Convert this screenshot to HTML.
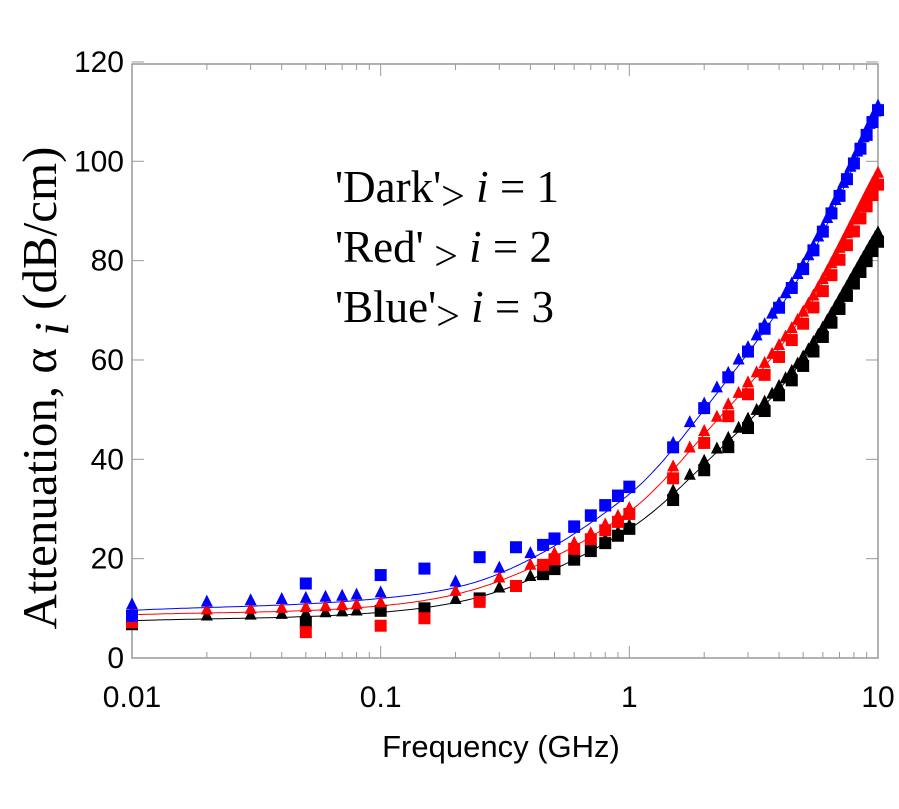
<!DOCTYPE html><html><head><meta charset="utf-8"><style>body{margin:0;background:#fff}svg{display:block}</style></head><body>
<svg id="s" width="899" height="809" xmlns="http://www.w3.org/2000/svg" font-family="Liberation Sans, sans-serif">
<rect width="899" height="809" fill="#fff"/>
<g id="g"></g>
<g font-family="Liberation Serif, serif" font-size="45" fill="#000">
<text x="335" y="202">'Dark'<tspan font-size="42" dy="8">&gt;</tspan><tspan font-style="italic" dy="-8"> i</tspan> = 1</text>
<text x="335" y="262">'Red'<tspan font-size="42" dy="8"> &gt;</tspan><tspan font-style="italic" dy="-8"> i</tspan> = 2</text>
<text x="335" y="322">'Blue'<tspan font-size="42" dy="8">&gt;</tspan><tspan font-style="italic" dy="-8"> i</tspan> = 3</text>
<text transform="translate(56,388) rotate(-90)" text-anchor="middle" font-size="49">Attenuation, α<tspan font-style="italic" dy="12"> i</tspan><tspan dy="-12"> (dB/cm)</tspan></text>
</g>
<text x="501" y="757" text-anchor="middle" font-size="31">Frequency (GHz)</text>
</svg>
<script>
const X=f=>132+248.67*Math.log10(f/0.01), Y=v=>658-v*4.967;
const g=document.getElementById('g');let h='';
const ax={b:[[.01,7.5],[.1,9.2],[.3,13.5],[1,26],[2,39],[5,60],[10,85]],
r:[[.01,8.7],[.1,10.5],[.3,15.5],[1,29.5],[2,45],[5,69],[10,97]],
bl:[[.01,9.6],[.1,12],[.3,17],[1,33],[2,50],[5,78],[10,110]]};
function val(a,f){const lx=Math.log10(f);let p=a.map(q=>[Math.log10(q[0]),q[1]]);
for(let i=0;i<p.length-1;i++){if(lx<=p[i+1][0]+1e-9){const p0=p[Math.max(0,i-1)],p1=p[i],p2=p[i+1],p3=p[Math.min(p.length-1,i+2)];
const t=(lx-p1[0])/(p2[0]-p1[0]);const m1=(p2[1]-p0[1])/(p2[0]-p0[0])*(p2[0]-p1[0]),m2=(p3[1]-p1[1])/(p3[0]-p1[0])*(p2[0]-p1[0]);
const t2=t*t,t3=t2*t;return (2*t3-3*t2+1)*p1[1]+(t3-2*t2+t)*m1+(-2*t3+3*t2)*p2[1]+(t3-t2)*m2;}}return p[p.length-1][1];}
h+='<rect x="132" y="64" width="746" height="594" fill="none" stroke="#999" stroke-width="1.5"/>';
for(let d=0;d<3;d++)for(let k=1;k<10;k++){const f=0.01*Math.pow(10,d)*k,x=X(f),L=k==1?12:6;if(k==1&&d==0)continue;
h+=`<line x1="${x}" x2="${x}" y1="658" y2="${658-L}" stroke="#999"/><line x1="${x}" x2="${x}" y1="64" y2="${64+L}" stroke="#999"/>`;}
for(let v=0;v<=120;v+=20){const y=Y(v);h+=`<line x1="132" x2="144" y1="${y}" y2="${y}" stroke="#999"/><line x1="866" x2="878" y1="${y}" y2="${y}" stroke="#999"/><text x="124" y="${y+10}" text-anchor="end" font-size="30">${v}</text>`;}
[['0.01',.01],['0.1',.1],['1',1],['10',10]].forEach(a=>h+=`<text x="${X(a[1])}" y="707" text-anchor="middle" font-size="30">${a[0]}</text>`);
const col={b:'#000',r:'#f00',bl:'#00f'};
for(const k of ['b','r','bl']){let d='';for(let i=0;i<=300;i++){const f=0.01*Math.pow(1000,i/300);d+=(i?'L':'M')+X(f).toFixed(1)+','+Y(val(ax[k],f)).toFixed(1);}
h+=`<path d="${d}" fill="none" stroke="${col[k]}" stroke-width="1"/>`;}
const tri=[.01,.02,.03,.04,.05,.06,.07,.08,.1,.2,.3,.4,.5,.6,.7,.8,.9,1];for(let f=1.5;f<=10.01;f+=0.25)tri.push(f);
const sq=[.45,.5,.6,.7,.8,.9,1];for(let f=1.5;f<=10.01;f+=0.5)sq.push(f);
const low={bl:[[.01,8.5],[.05,15],[.1,16.7],[.15,18],[.25,20.3],[.35,22.3]],r:[[.01,7.2],[.05,5.2],[.1,6.5],[.15,8],[.25,11.3],[.35,14.5]],b:[[.01,6.8],[.05,7.2],[.1,9.5],[.15,10],[.25,12],[.35,14.5]]};
const off={b:0,r:-0.5,bl:1.5};
for(const k of ['b','r','bl']){
 for(const f of tri){const x=X(f),y=Y(val(ax[k],f)+(k=='bl'?0.8:0.3))-2;h+=`<path d="M${x-6},${y+5}L${x+6},${y+5}L${x},${y-7}Z" fill="${col[k]}"/>`;}
 const S=low[k].concat(sq.map(f=>[f,val(ax[k],f)+off[k]-(f>1?1.2:0)]));
 for(const [f,v] of S){const x=X(f),y=Y(v);h+=`<rect x="${x-6}" y="${y-6}" width="12" height="12" fill="${col[k]}"/>`;}
}
g.innerHTML=h;
</script>
</body></html>
